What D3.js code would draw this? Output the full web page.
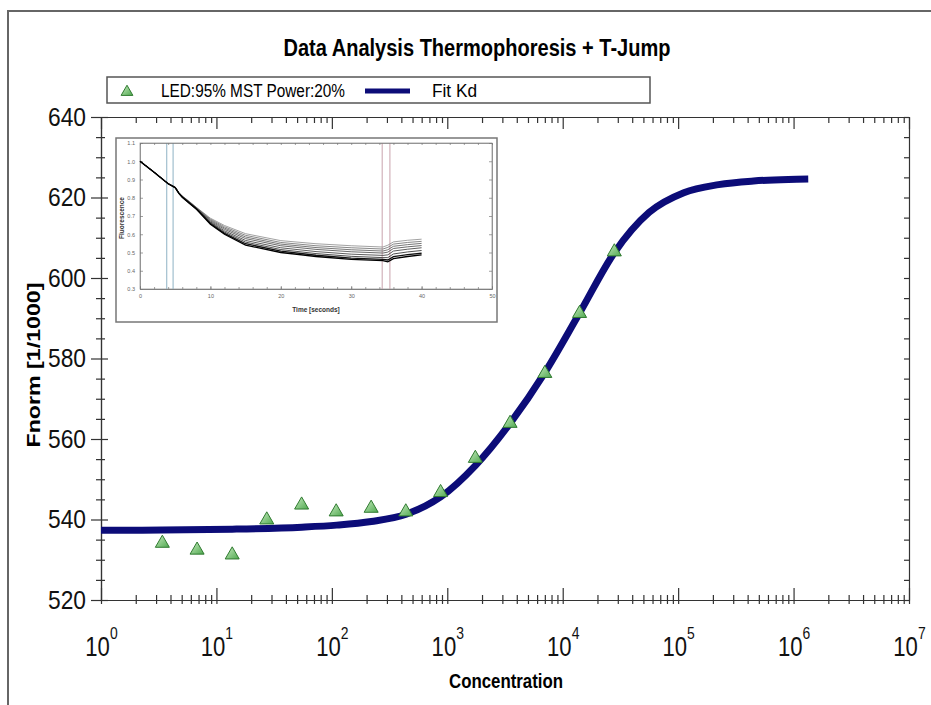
<!DOCTYPE html>
<html>
<head>
<meta charset="utf-8">
<script src="https://cdn.jsdelivr.net/npm/d3@7"></script>
<style>
body { margin: 0; background: #fff; }
svg { display: block; font-family: "Liberation Sans", Arial, sans-serif; }
</style>
</head>
<body>
<svg id="chart" width="931" height="705"></svg>
<script>
// measured points (triangles)
let concentrations = [3.4, 6.8, 13.7, 27.3, 54.7, 109, 219, 437, 875, 1750, 3500, 7000, 14000, 28000]
let fnorm = [534.1, 532.4, 531.2, 539.9, 543.6, 541.9, 542.8, 541.9, 546.7, 555.2, 563.9, 576.3, 591.2, 606.5]

// fit curve
let fitConc = [1, 3.4, 13.7, 55, 110, 220, 440, 875, 1750, 3500, 7000, 14000, 28000, 56000, 112000, 224000, 450000, 900000, 1340000]
let fitValue = [537.3, 537.4, 537.6, 538.1, 538.6, 539.5, 541.3, 545.6, 553.4, 563.9, 576.5, 591.3, 606.3, 616.3, 621.2, 623.2, 624.1, 624.5, 624.6]

let xTicks = [1, 10, 100, 1000, 10000, 100000, 1000000, 10000000]
let yTicks = [520, 540, 560, 580, 600, 620, 640]

// inset: fluorescence traces
let insetTime = [0, 2, 4, 5, 5.5, 6, 7, 8, 10, 12, 15, 20, 25, 30, 34.5, 35.2, 36, 38, 40]
let trace1 = [1.0, 0.94, 0.877, 0.86, 0.83, 0.81, 0.78, 0.748, 0.688, 0.648, 0.603, 0.565, 0.548, 0.537, 0.53, 0.54, 0.558, 0.567, 0.573]
let trace2 = [1.0, 0.94, 0.877, 0.859, 0.829, 0.809, 0.779, 0.747, 0.683, 0.641, 0.594, 0.555, 0.537, 0.526, 0.519, 0.528, 0.546, 0.555, 0.561]
let trace3 = [1.0, 0.94, 0.877, 0.858, 0.828, 0.808, 0.777, 0.745, 0.678, 0.634, 0.585, 0.546, 0.527, 0.515, 0.508, 0.515, 0.534, 0.543, 0.55]
let trace4 = [1.0, 0.94, 0.877, 0.857, 0.827, 0.807, 0.776, 0.744, 0.673, 0.627, 0.576, 0.537, 0.517, 0.504, 0.497, 0.502, 0.522, 0.531, 0.538]
let trace5 = [1.0, 0.94, 0.877, 0.857, 0.827, 0.806, 0.774, 0.742, 0.668, 0.619, 0.566, 0.526, 0.505, 0.491, 0.484, 0.487, 0.508, 0.518, 0.526]
let trace6 = [1.0, 0.94, 0.877, 0.856, 0.826, 0.805, 0.773, 0.741, 0.664, 0.612, 0.557, 0.516, 0.494, 0.479, 0.472, 0.472, 0.492, 0.503, 0.511]
let trace7 = [1.0, 0.94, 0.877, 0.855, 0.825, 0.804, 0.771, 0.739, 0.659, 0.605, 0.548, 0.507, 0.485, 0.469, 0.462, 0.459, 0.477, 0.488, 0.496]
let trace8 = [1.0, 0.94, 0.877, 0.855, 0.825, 0.803, 0.77, 0.738, 0.655, 0.6, 0.54, 0.5, 0.478, 0.462, 0.455, 0.449, 0.466, 0.478, 0.487]
let insetXTicks = [0, 10, 20, 30, 40, 50]
let insetYTicks = [0.3, 0.4, 0.5, 0.6, 0.7, 0.8, 0.9, 1.0, 1.1]
let insetMarkers = [3.8, 4.7, 34.4, 35.5]

let svg = d3.select("#chart")

// outer frame (left + top only visible)
svg.append("path")
    .attr("d", "M8,705 L8,11 L931,11")
    .attr("fill", "none")
    .attr("stroke", "#666")
    .attr("stroke-width", 2)

let x = d3.scaleLog().domain([1, 1e7]).range([101, 909])
let y = d3.scaleLinear().domain([520, 640]).range([600, 117])

let minorX = []
xTicks.slice(0, -1).forEach(d => { for (let k = 2; k < 10; k++) minorX.push(d * k) })
let minorY = d3.range(520, 641, 5).filter(d => d % 20 != 0)

let axisColor = "#333"

// title
svg.append("text")
    .attr("x", 477).attr("y", 56)
    .attr("text-anchor", "middle")
    .attr("font-size", 23).attr("font-weight", "bold")
    .attr("textLength", 387).attr("lengthAdjust", "spacingAndGlyphs")
    .text("Data Analysis Thermophoresis + T-Jump")

// legend
let legend = svg.append("g")
legend.append("rect")
    .attr("x", 107).attr("y", 77).attr("width", 543).attr("height", 26)
    .attr("fill", "#fff").attr("stroke", "#555").attr("stroke-width", 1.5)

let defs = svg.append("defs")
let grad = defs.append("linearGradient").attr("id", "tri").attr("x1", 0).attr("y1", 0).attr("x2", 1).attr("y2", 1)
grad.append("stop").attr("offset", "0%").attr("stop-color", "#c8ecc0")
grad.append("stop").attr("offset", "100%").attr("stop-color", "#4fa84f")

let tri = d3.symbol(d3.symbolTriangle, 85)

legend.append("path")
    .attr("d", d3.symbol(d3.symbolTriangle, 60)())
    .attr("transform", "translate(127,92)")
    .attr("fill", "url(#tri)").attr("stroke", "#2f7a2f").attr("stroke-width", 1)
legend.append("text")
    .attr("x", 161).attr("y", 97).attr("font-size", 18)
    .attr("textLength", 184).attr("lengthAdjust", "spacingAndGlyphs")
    .text("LED:95% MST Power:20%")
legend.append("line")
    .attr("x1", 365).attr("x2", 410).attr("y1", 91).attr("y2", 91)
    .attr("stroke", "#0c0c78").attr("stroke-width", 5)
legend.append("text")
    .attr("x", 432).attr("y", 97).attr("font-size", 18)
    .attr("textLength", 45).attr("lengthAdjust", "spacingAndGlyphs")
    .text("Fit Kd")

// ---- main axes ----
function styleAxis(g) {
    g.selectAll("path, line").attr("stroke", axisColor).attr("stroke-width", 1.2)
}

// bottom
let bottomMinor = svg.append("g").attr("transform", "translate(0,600)")
    .call(d3.axisBottom(x).tickValues(minorX).tickFormat("").tickSizeOuter(0))
bottomMinor.selectAll(".tick line").attr("y1", -5).attr("y2", 4)
styleAxis(bottomMinor)

let bottomMajor = svg.append("g").attr("transform", "translate(0,600)")
    .call(d3.axisBottom(x).tickValues(xTicks).tickFormat("").tickSizeOuter(0))
bottomMajor.selectAll(".tick line").attr("y1", -12).attr("y2", 4)
styleAxis(bottomMajor)
bottomMajor.selectAll(".tick").each(function(d) {
    let t = d3.select(this).append("text")
        .attr("fill", "#111").attr("y", 56).attr("font-size", 27).attr("text-anchor", "middle")
        .attr("transform", "scale(0.82,1)")
    t.append("tspan").text("10")
    t.append("tspan").attr("dy", -17).attr("font-size", 17).text(Math.round(Math.log10(d)))
})

// top
let topMinor = svg.append("g").attr("transform", "translate(0,117)")
    .call(d3.axisTop(x).tickValues(minorX).tickFormat("").tickSizeInner(-6).tickSizeOuter(0))
styleAxis(topMinor)
let topMajor = svg.append("g").attr("transform", "translate(0,117)")
    .call(d3.axisTop(x).tickValues(xTicks).tickFormat("").tickSizeInner(-12).tickSizeOuter(0))
styleAxis(topMajor)

// left
let leftMinor = svg.append("g").attr("transform", "translate(101,0)")
    .call(d3.axisLeft(y).tickValues(minorY).tickFormat("").tickSizeOuter(0))
leftMinor.selectAll(".tick line").attr("x1", -5).attr("x2", 4)
styleAxis(leftMinor)
let leftMajor = svg.append("g").attr("transform", "translate(101,0)")
    .call(d3.axisLeft(y).tickValues(yTicks).tickSizeOuter(0).tickPadding(0))
leftMajor.selectAll(".tick line").attr("x1", -10).attr("x2", 7)
leftMajor.selectAll("text")
    .attr("x", -15)
    .attr("font-size", 25).attr("fill", "#111").attr("font-family", "Liberation Sans, Arial, sans-serif")
    .attr("textLength", 38).attr("lengthAdjust", "spacingAndGlyphs")
styleAxis(leftMajor)

// right
let rightAxis = svg.append("g").attr("transform", "translate(909,0)")
    .call(d3.axisRight(y).tickValues(d3.range(520, 641, 5)).tickFormat("").tickSizeInner(-5).tickSizeOuter(0))
styleAxis(rightAxis)

// axis titles
svg.append("text")
    .attr("x", 506).attr("y", 688)
    .attr("text-anchor", "middle").attr("font-size", 20).attr("font-weight", "bold")
    .attr("textLength", 114).attr("lengthAdjust", "spacingAndGlyphs")
    .text("Concentration")
svg.append("text")
    .attr("transform", "translate(40,365) rotate(-90)")
    .attr("text-anchor", "middle").attr("font-size", 19).attr("font-weight", "bold")
    .attr("textLength", 165).attr("lengthAdjust", "spacingAndGlyphs")
    .text("Fnorm [1/1000]")

// fit curve
let fitData = fitConc.map((c, i) => ({ c: c, v: fitValue[i] }))
let line = d3.line().x(d => x(d.c)).y(d => y(d.v)).curve(d3.curveMonotoneX)
svg.append("path")
    .datum(fitData)
    .attr("d", line)
    .attr("fill", "none")
    .attr("stroke", "#0c0c78")
    .attr("stroke-width", 7)

// measured points
svg.selectAll(".pt")
    .data(concentrations.map((c, i) => ({ c: c, v: fnorm[i] })))
    .enter()
    .append("path")
    .attr("class", "pt")
    .attr("d", tri())
    .attr("transform", d => "translate(" + x(d.c) + "," + y(d.v) + ")")
    .attr("fill", "url(#tri)")
    .attr("stroke", "#2f7a2f")
    .attr("stroke-width", 1)

// ---- inset ----
let inset = svg.append("g")
inset.append("rect")
    .attr("x", 116).attr("y", 138).attr("width", 381).attr("height", 184)
    .attr("fill", "#fff").attr("stroke", "#777").attr("stroke-width", 1.5)

let xi = d3.scaleLinear().domain([0, 50]).range([140, 492])
let yi = d3.scaleLinear().domain([0.3, 1.1]).range([289, 143])

inset.append("rect")
    .attr("x", 140).attr("y", 143).attr("width", 352).attr("height", 146)
    .attr("fill", "none").attr("stroke", "#999").attr("stroke-width", 0.8)

insetMarkers.forEach((t, i) => {
    inset.append("line")
        .attr("x1", xi(t)).attr("x2", xi(t)).attr("y1", 143).attr("y2", 289)
        .attr("stroke", i < 2 ? "#8eb2c4" : "#c9a2ac").attr("stroke-width", 1)
})

function insetStyle(g) {
    g.selectAll("path, line").attr("stroke", "#777").attr("stroke-width", 0.7)
    g.selectAll("text").attr("font-size", 5.5).attr("fill", "#666")
}
let iMinorX = d3.range(0, 51, 2)
inset.append("g").attr("transform", "translate(0,289)")
    .call(d3.axisBottom(xi).tickValues(iMinorX).tickFormat("").tickSizeInner(-2).tickSizeOuter(0)).call(insetStyle)
inset.append("g").attr("transform", "translate(0,289)")
    .call(d3.axisBottom(xi).tickValues(insetXTicks).tickSizeInner(-3).tickSizeOuter(0).tickPadding(5)).call(insetStyle)
inset.append("g").attr("transform", "translate(0,143)")
    .call(d3.axisTop(xi).tickValues(iMinorX).tickFormat("").tickSizeInner(-2).tickSizeOuter(0)).call(insetStyle)
inset.append("g").attr("transform", "translate(140,0)")
    .call(d3.axisLeft(yi).tickValues(insetYTicks).tickFormat(d3.format(".1f")).tickSizeInner(-3).tickSizeOuter(0).tickPadding(5)).call(insetStyle)
inset.append("g").attr("transform", "translate(492,0)")
    .call(d3.axisRight(yi).tickValues(insetYTicks).tickFormat("").tickSizeInner(-3).tickSizeOuter(0)).call(insetStyle)

let traces = [trace1, trace2, trace3, trace4, trace5, trace6, trace7, trace8]
let traceColors = ["#8a8a8a", "#6a6a6a", "#555", "#444", "#333", "#222", "#111", "#000"]
let iline = d3.line().x((d, i) => xi(insetTime[i])).y(d => yi(d))
traces.forEach((tr, k) => {
    inset.append("path")
        .datum(tr)
        .attr("d", iline)
        .attr("fill", "none")
        .attr("stroke", traceColors[k])
        .attr("stroke-width", k > 5 ? 1.3 : 0.8)
})

inset.append("text")
    .attr("x", 316).attr("y", 312)
    .attr("text-anchor", "middle").attr("font-size", 6.5).attr("font-weight", "bold").attr("fill", "#333")
    .text("Time [seconds]")
inset.append("text")
    .attr("transform", "translate(124,218) rotate(-90)")
    .attr("text-anchor", "middle").attr("font-size", 6.5).attr("font-weight", "bold").attr("fill", "#333")
    .text("Fluorescence")
</script>
</body>
</html>
